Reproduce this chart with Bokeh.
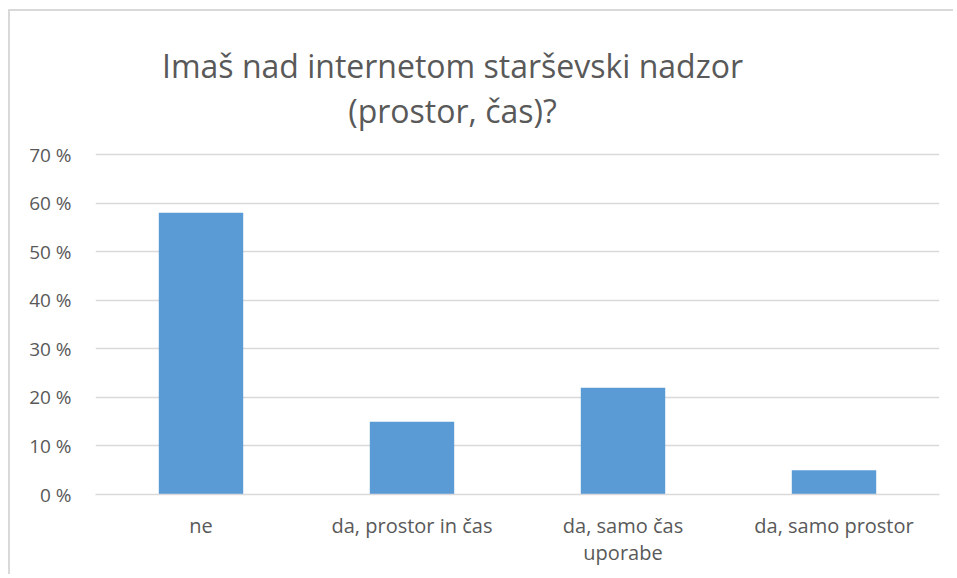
from bokeh.plotting import figure
from bokeh.models import Range1d, CustomJSTickFormatter, FixedTicker
from bokeh.core.properties import value
from bokeh.embed import file_html
from bokeh.resources import INLINE

categories = ["ne", "da, prostor in čas", "da, samo čas\nuporabe", "da, samo prostor"]
values = [58, 15, 22, 5]
y_ticks = [0, 10, 20, 30, 40, 50, 60, 70]
title_lines = ["Imaš nad internetom starševski nadzor", "(prostor, čas)?"]

FONT = "Open Sans"
TXT = "#595959"
GRID = "#d9d9d9"

# canvas geometry (pixels)
W, H = 945, 565
BL, BR, BT, BB = 85, 16, 10, 82
FW, FH = W - BL - BR, H - BT - BB
PLOT_PX = 340            # pixel height of the 0..70 % band
YMAX = 70
NCAT = len(categories)
xpos = [i + 0.5 for i in range(NCAT)]
y_end = FH * YMAX / PLOT_PX

p = figure(
    x_range=Range1d(0, NCAT),
    y_range=Range1d(0, y_end),
    width=W, height=H,
    output_backend="svg", toolbar_location=None,
    min_border_left=BL, min_border_right=BR,
    min_border_top=BT, min_border_bottom=BB,
)
p.styles = {"margin-left": "8px", "margin-top": "9px",
            "border-top": "2px solid #d9d9d9", "border-left": "2px solid #d9d9d9"}
p.outline_line_color = None
p.background_fill_color = "white"
p.border_fill_color = "white"

p.vbar(x=xpos, top=values, width=0.4, color="#5b9bd5", line_color=None)

p.yaxis.ticker = y_ticks
p.yaxis.formatter = CustomJSTickFormatter(code="return tick + ' %';")
p.yaxis.axis_line_color = None
p.yaxis.major_tick_line_color = None
p.yaxis.minor_tick_line_color = None
p.yaxis.major_label_text_font = FONT
p.yaxis.major_label_text_font_size = "19px"
p.yaxis.major_label_text_color = TXT
p.yaxis.major_label_standoff = 18

p.xaxis.ticker = FixedTicker(ticks=xpos)
p.xaxis.major_label_overrides = {x: c for x, c in zip(xpos, categories)}
p.xaxis.axis_line_color = GRID
p.xaxis.axis_line_width = 1.5
p.xaxis.major_tick_line_color = None
p.xaxis.minor_tick_line_color = None
p.xaxis.major_label_text_font = FONT
p.xaxis.major_label_text_font_size = "20px"
p.xaxis.major_label_text_color = TXT
p.xaxis.major_label_text_line_height = 1.0
p.xaxis.major_label_standoff = 11

p.xgrid.grid_line_color = None
p.ygrid.grid_line_color = GRID
p.ygrid.grid_line_width = 1.5

# title: pixel offsets above the 70 % line converted to data units
px_per_x = FW / NCAT
px_per_y = PLOT_PX / YMAX
title_cx = 357 / px_per_x
title_y = [YMAX + 89 / px_per_y, YMAX + 44 / px_per_y]
p.text(x=[title_cx] * 2, y=title_y, text=title_lines,
       text_font=value(FONT), text_font_size="32px", text_color=TXT,
       text_align="center", text_baseline="alphabetic")

open("out.html", "w").write(file_html(p, INLINE))
